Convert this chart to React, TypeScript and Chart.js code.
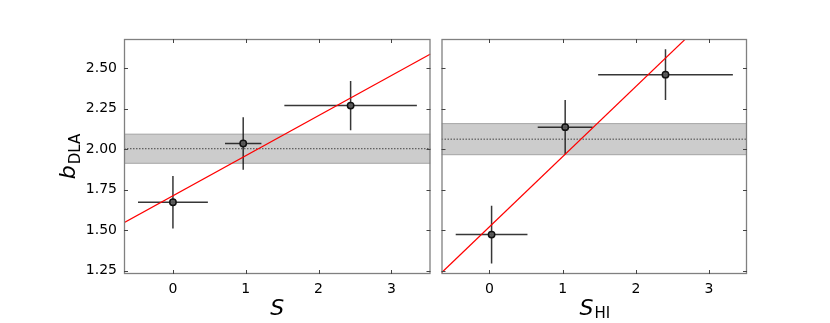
import React, { useEffect, useRef } from "react";
import { Chart, registerables } from "chart.js";

Chart.register(...registerables);

// ---- data ----
const xTicks = [0, 1, 2, 3];
const yTicks = [1.25, 1.5, 1.75, 2.0, 2.25, 2.5];
const yMin = 1.23;
const yMax = 2.68;

// left panel: b_DLA vs S
const leftXRange = [-0.672, 3.537];
const leftX = [0.0, 0.965, 2.44];
const leftY = [1.673, 2.035, 2.269];
const leftXErr = [0.48, 0.25, 0.91];
const leftYErr = [0.162, 0.162, 0.152];
const leftBandMean = 2.003;
const leftBandErr = 0.09;
const leftFitX = [-0.672, 3.537];
const leftFitY = [1.547, 2.588];

// right panel: b_DLA vs S_HI
const rightXRange = [-0.654, 3.518];
const rightX = [0.03, 1.035, 2.405];
const rightY = [1.473, 2.136, 2.46];
const rightXErr = [0.49, 0.375, 0.92];
const rightYErr = [0.178, 0.167, 0.157];
const rightBandMean = 2.062;
const rightBandErr = 0.096;
const rightFitX = [-0.654, 3.518];
const rightFitY = [1.238, 3.044];

const FONT = '"DejaVu Sans", sans-serif';

type PanelSpec = {
  xRange: number[];
  xs: number[];
  ys: number[];
  xErr: number[];
  yErr: number[];
  bandMean: number;
  bandErr: number;
  fitX: number[];
  fitY: number[];
  showYLabels: boolean;
  yAxisWidth: number;
  padRight: number;
  xTitle: string;
  xSub: string;
  yTitle?: string;
  ySub?: string;
};

function makeConfig(p: PanelSpec): any {
  const decor = {
    id: "decor",
    beforeDatasetsDraw(chart: any) {
      const { ctx, chartArea: a, scales } = chart;
      const xs = scales.x, ys = scales.y;
      ctx.save();
      ctx.beginPath();
      ctx.rect(a.left, a.top, a.right - a.left, a.bottom - a.top);
      ctx.clip();
      // band
      const yTop = ys.getPixelForValue(p.bandMean + p.bandErr);
      const yBot = ys.getPixelForValue(p.bandMean - p.bandErr);
      ctx.fillStyle = "rgba(170,170,170,0.6)";
      ctx.fillRect(a.left, yTop, a.right - a.left, yBot - yTop);
      ctx.strokeStyle = "rgba(150,150,150,0.8)";
      ctx.lineWidth = 1;
      ctx.beginPath();
      ctx.moveTo(a.left, yTop);
      ctx.lineTo(a.right, yTop);
      ctx.moveTo(a.left, yBot);
      ctx.lineTo(a.right, yBot);
      ctx.stroke();
      // dotted mean line
      const ym = ys.getPixelForValue(p.bandMean);
      ctx.strokeStyle = "#444";
      ctx.setLineDash([1.5, 1.5]);
      ctx.beginPath();
      ctx.moveTo(a.left, ym);
      ctx.lineTo(a.right, ym);
      ctx.stroke();
      ctx.setLineDash([]);
      // error bars
      ctx.strokeStyle = "rgba(20,20,20,0.85)";
      ctx.lineWidth = 1.5;
      for (let i = 0; i < p.xs.length; i++) {
        const cx = xs.getPixelForValue(p.xs[i]);
        const cy = ys.getPixelForValue(p.ys[i]);
        ctx.beginPath();
        ctx.moveTo(xs.getPixelForValue(p.xs[i] - p.xErr[i]), cy);
        ctx.lineTo(xs.getPixelForValue(p.xs[i] + p.xErr[i]), cy);
        ctx.moveTo(cx, ys.getPixelForValue(p.ys[i] - p.yErr[i]));
        ctx.lineTo(cx, ys.getPixelForValue(p.ys[i] + p.yErr[i]));
        ctx.stroke();
      }
      ctx.restore();
    },
    afterDraw(chart: any) {
      const { ctx, chartArea: a, scales } = chart;
      const xs = scales.x, ys = scales.y;
      ctx.save();
      ctx.strokeStyle = "#808080";
      ctx.lineWidth = 1.3;
      ctx.strokeRect(a.left + 0.5, a.top + 0.5, a.right - a.left - 1, a.bottom - a.top - 1);
      const tl = 4;
      ctx.strokeStyle = "#444";
      ctx.lineWidth = 1;
      ctx.beginPath();
      for (const t of xs.ticks) {
        const px = Math.round(xs.getPixelForValue(t.value)) + 0.5;
        ctx.moveTo(px, a.bottom);
        ctx.lineTo(px, a.bottom - tl);
        ctx.moveTo(px, a.top);
        ctx.lineTo(px, a.top + tl);
      }
      for (const t of ys.ticks) {
        const py = Math.round(ys.getPixelForValue(t.value)) + 0.5;
        ctx.moveTo(a.left, py);
        ctx.lineTo(a.left + tl, py);
        ctx.moveTo(a.right, py);
        ctx.lineTo(a.right - tl, py);
      }
      ctx.stroke();

      // x title
      ctx.fillStyle = "#000";
      ctx.textBaseline = "alphabetic";
      ctx.textAlign = "left";
      const mainFont = "italic 22px " + FONT;
      const subFont = "15px " + FONT;
      ctx.font = mainFont;
      const wS = ctx.measureText(p.xTitle).width;
      ctx.font = subFont;
      const wSub = p.xSub ? ctx.measureText(p.xSub).width : 0;
      const cx = (a.left + a.right) / 2;
      const x0 = cx - (wS + wSub) / 2;
      ctx.font = mainFont;
      ctx.fillText(p.xTitle, x0, 315);
      if (p.xSub) {
        ctx.font = subFont;
        ctx.fillText(p.xSub, x0 + wS + 1, 318);
      }

      // y title
      if (p.yTitle) {
        ctx.save();
        ctx.translate(75, (a.top + a.bottom) / 2);
        ctx.rotate(-Math.PI / 2);
        ctx.font = mainFont;
        const wb = ctx.measureText(p.yTitle).width;
        ctx.font = subFont;
        const wd = ctx.measureText(p.ySub || "").width;
        const y0 = -(wb + wd + 1) / 2;
        ctx.font = mainFont;
        ctx.fillText(p.yTitle, y0, 0);
        ctx.font = subFont;
        ctx.fillText(p.ySub || "", y0 + wb + 1, 5);
        ctx.restore();
      }
      ctx.restore();
    },
  };

  return {
    type: "scatter",
    data: {
      datasets: [
        {
          type: "line",
          data: p.fitX.map((x, i) => ({ x, y: p.fitY[i] })),
          borderColor: "#ff0000",
          borderWidth: 1.2,
          pointRadius: 0,
          fill: false,
          order: 2,
        },
        {
          type: "scatter",
          data: p.xs.map((x, i) => ({ x, y: p.ys[i] })),
          pointRadius: 3.2,
          pointBackgroundColor: "rgba(90,90,90,0.9)",
          pointBorderColor: "#111",
          pointBorderWidth: 1.5,
          order: 1,
        },
      ],
    },
    options: {
      animation: false,
      responsive: false,
      devicePixelRatio: 1,
      layout: { padding: { left: 0, top: 39, right: p.padRight, bottom: 0 } },
      plugins: { legend: { display: false }, tooltip: { enabled: false } },
      scales: {
        x: {
          type: "linear",
          min: p.xRange[0],
          max: p.xRange[1],
          afterBuildTicks: (s: any) => {
            s.ticks = xTicks.map((v) => ({ value: v }));
          },
          afterFit: (s: any) => {
            s.height = 49;
          },
          grid: { display: false, drawTicks: false },
          border: { display: false },
          ticks: {
            padding: 7,
            color: "#000",
            font: { family: FONT, size: 14 },
            maxRotation: 0,
            callback: (v: any) => String(v),
          },
        },
        y: {
          type: "linear",
          min: yMin,
          max: yMax,
          afterBuildTicks: (s: any) => {
            s.ticks = yTicks.map((v) => ({ value: v }));
          },
          afterFit: (s: any) => {
            s.width = p.yAxisWidth;
          },
          grid: { display: false, drawTicks: false },
          border: { display: false },
          ticks: {
            display: p.showYLabels,
            padding: 7,
            color: "#000",
            font: { family: FONT, size: 14 },
            callback: (v: any) => Number(v).toFixed(2),
          },
        },
      },
    },
    plugins: [decor],
  };
}

function Panel(props: { spec: PanelSpec; left: number; width: number }) {
  const ref = useRef<HTMLCanvasElement | null>(null);
  useEffect(() => {
    if (!ref.current) return;
    const chart = new Chart(ref.current, makeConfig(props.spec));
    return () => chart.destroy();
  }, []);
  return (
    <canvas
      ref={ref}
      width={props.width}
      height={323}
      style={{ position: "absolute", left: props.left, top: 0, width: props.width, height: 323 }}
    />
  );
}

export default function App() {
  const leftSpec: PanelSpec = {
    xRange: leftXRange,
    xs: leftX,
    ys: leftY,
    xErr: leftXErr,
    yErr: leftYErr,
    bandMean: leftBandMean,
    bandErr: leftBandErr,
    fitX: leftFitX,
    fitY: leftFitY,
    showYLabels: true,
    yAxisWidth: 124,
    padRight: 3,
    xTitle: "S",
    xSub: "",
    yTitle: "b",
    ySub: "DLA",
  };
  const rightSpec: PanelSpec = {
    xRange: rightXRange,
    xs: rightX,
    ys: rightY,
    xErr: rightXErr,
    yErr: rightYErr,
    bandMean: rightBandMean,
    bandErr: rightBandErr,
    fitX: rightFitX,
    fitY: rightFitY,
    showYLabels: false,
    yAxisWidth: 2,
    padRight: 83,
    xTitle: "S",
    xSub: "HI",
  };
  return (
    <div style={{ position: "absolute", left: 0, top: 0, width: 830, height: 323, background: "#fff" }}>
      <Panel spec={leftSpec} left={0} width={436} />
      <Panel spec={rightSpec} left={436} width={394} />
    </div>
  );
}
